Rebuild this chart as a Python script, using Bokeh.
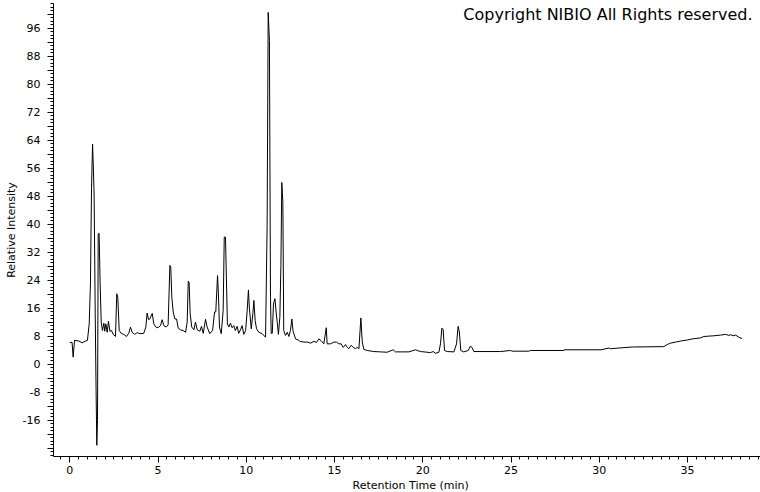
from bokeh.plotting import figure
from bokeh.models import SingleIntervalTicker, Label, Range1d, Title
from bokeh.embed import file_html
from bokeh.resources import INLINE

# Chromatogram trace (retention time in min, relative intensity)
time_min = [0.00, 0.13, 0.19, 0.27, 0.51, 0.70, 0.89, 1.00, 1.10, 1.17, 1.23, 1.29, 1.34, 1.38,
            1.44, 1.49, 1.53, 1.57, 1.61, 1.66, 1.72, 1.78, 1.85, 1.93, 1.98, 2.04, 2.12, 2.19,
            2.27, 2.36, 2.46, 2.59, 2.66, 2.72, 2.80, 2.91, 3.06, 3.21, 3.34, 3.44, 3.53, 3.67,
            3.82, 3.97, 4.19, 4.31, 4.38, 4.46, 4.53, 4.67, 4.76, 4.91, 5.04, 5.14, 5.23, 5.33,
            5.46, 5.57, 5.67, 5.72, 5.78, 5.86, 5.95, 6.05, 6.14, 6.27, 6.42, 6.56, 6.65, 6.71,
            6.76, 6.82, 6.91, 7.03, 7.12, 7.22, 7.37, 7.46, 7.56, 7.69, 7.78, 7.93, 8.09, 8.20,
            8.27, 8.37, 8.42, 8.48, 8.58, 8.69, 8.75, 8.82, 8.88, 8.93, 9.01, 9.10, 9.20, 9.29,
            9.38, 9.48, 9.57, 9.67, 9.76, 9.86, 9.96, 10.05, 10.12, 10.17, 10.28, 10.37, 10.43,
            10.50, 10.58, 10.71, 10.90, 11.09, 11.18, 11.24, 11.31, 11.37, 11.41, 11.47, 11.54,
            11.62, 11.69, 11.75, 11.82, 11.90, 11.96, 12.01, 12.07, 12.12, 12.22, 12.32, 12.41,
            12.50, 12.58, 12.65, 12.79, 12.98, 13.03, 13.26, 13.45, 13.64, 13.83, 13.98, 14.11,
            14.24, 14.39, 14.53, 14.58, 14.77, 14.96, 15.11, 15.24, 15.37, 15.49, 15.62, 15.72,
            15.81, 15.94, 16.06, 16.19, 16.28, 16.38, 16.49, 16.57, 16.66, 16.85, 17.22, 17.60,
            17.98, 18.32, 18.45, 18.74, 19.21, 19.59, 19.68, 19.87, 20.44, 20.59, 20.72, 20.91,
            21.00, 21.08, 21.15, 21.23, 21.38, 21.76, 21.91, 22.00, 22.07, 22.15, 22.32, 22.57,
            22.70, 22.80, 22.89, 24.40, 24.97, 25.06, 26.00, 26.10, 27.99, 28.00, 30.10, 30.54,
            30.63, 31.10, 31.86, 33.65, 33.85, 34.03, 34.32, 34.60, 34.98, 35.26, 35.73, 35.92,
            36.20, 36.49, 36.87, 37.15, 37.34, 37.43, 37.62, 37.72, 37.90, 38.09]

intensity = [6.3, 6.3, 2.1, 6.9, 6.7, 6.2, 6.7, 6.9, 11.6, 23.0, 50.2, 63.0, 55.6, 47.8,
             14.5, -7.4, -23.1, -16.0, 37.3, 37.5, 23.0, 12.1, 9.7, 11.8, 9.5, 11.6, 9.2, 12.4,
             9.5, 9.7, 8.6, 8.0, 20.2, 19.2, 9.7, 8.9, 8.6, 8.0, 8.9, 10.7, 9.2, 8.6,
             9.1, 8.8, 8.9, 10.7, 14.7, 12.8, 13.0, 14.6, 11.6, 10.5, 10.7, 11.1, 12.8, 11.1,
             10.7, 11.3, 28.3, 27.8, 19.2, 15.0, 13.0, 13.0, 10.4, 9.9, 9.7, 9.2, 12.1, 23.8,
             23.5, 14.5, 10.7, 9.9, 12.1, 9.9, 9.5, 10.9, 8.9, 12.9, 10.7, 8.8, 9.7, 15.0,
             15.0, 25.4, 20.2, 10.7, 8.8, 15.5, 36.4, 36.4, 23.0, 11.6, 10.7, 11.8, 10.5, 11.1,
             9.7, 10.9, 8.9, 9.9, 11.1, 8.6, 9.7, 15.4, 21.3, 16.4, 10.2, 14.5, 18.3,
             12.6, 10.2, 9.2, 8.8, 7.8, 40.0, 100.6, 92.6, 19.2, 8.9, 8.9, 17.3,
             18.8, 15.0, 12.1, 8.6, 13.5, 28.3, 52.0, 46.4, 9.7, 8.3, 9.2, 8.0,
             9.7, 13.0, 9.5, 7.3, 6.9, 6.6, 6.4, 6.4, 6.1, 6.6, 6.3, 7.3,
             6.8, 5.9, 10.5, 5.9, 5.9, 6.4, 6.4, 5.9, 5.9, 4.9, 5.7, 4.9,
             4.5, 5.5, 4.9, 4.5, 4.9, 4.5, 13.3, 6.4, 4.3, 4.0, 3.7, 3.6,
             3.5, 4.2, 3.6, 3.6, 3.6, 4.2, 4.0, 3.7, 3.4, 3.7, 3.2, 3.5,
             5.9, 10.4, 10.0, 4.0, 3.7, 3.6, 5.9, 10.9, 9.3, 4.0, 3.6, 4.0,
             5.3, 4.7, 3.7, 3.7, 4.0, 3.8, 3.8, 4.0, 4.0, 4.2, 4.2, 4.7,
             4.5, 4.7, 5.0, 5.1, 5.7, 6.1, 6.4, 6.7, 7.0, 7.3, 7.6, 8.0,
             8.1, 8.2, 8.4, 8.6, 8.3, 8.5, 8.2, 8.4, 7.8, 7.4]

# y tick labels: long ticks every 4 units, text every 8 (hyphen minus as in the original)
y_tick_values = [-24, -20, -16, -12, -8, -4, 0, 4, 8, 12, 16, 20, 24, 28, 32, 36, 40, 44,
                 48, 52, 56, 60, 64, 68, 72, 76, 80, 84, 88, 92, 96, 100]
y_tick_texts = ["", "", "-16", "", "-8", "", "0", "", "8", "", "16", "", "24", "", "32", "",
                "40", "", "48", "", "56", "", "64", "", "72", "", "80", "", "88", "", "96", ""]

x_label = "Retention Time (min)"
y_label = "Relative Intensity"
copyright_text = "Copyright NIBIO All Rights reserved."

FONT = "DejaVu Sans"

p = figure(width=760, height=492, output_backend="svg", toolbar_location=None,
           x_range=Range1d(-0.923, 39.13), y_range=Range1d(-26.29, 103.14),
           min_border_left=53, min_border_right=0, min_border_top=3, min_border_bottom=36)
p.outline_line_color = None
p.grid.visible = False
p.background_fill_color = "white"
p.border_fill_color = "white"

p.line(time_min, intensity, line_color="black", line_width=1)

for ax in (p.xaxis[0], p.yaxis[0]):
    ax.axis_line_color = "black"
    ax.major_tick_line_color = "black"
    ax.minor_tick_line_color = "black"
    ax.major_tick_in = 0
    ax.minor_tick_in = 0
    ax.major_tick_out = 6
    ax.minor_tick_out = 3
    ax.major_label_text_font = FONT
    ax.major_label_text_font_size = "11px"
    ax.major_label_text_color = "black"

p.xaxis[0].ticker = SingleIntervalTicker(interval=5, num_minor_ticks=10)
p.yaxis[0].ticker = SingleIntervalTicker(interval=4, num_minor_ticks=4)
p.yaxis[0].major_label_overrides = dict(zip(y_tick_values, y_tick_texts))
p.xaxis[0].major_label_standoff = 3
p.yaxis[0].major_label_standoff = 7

p.yaxis[0].axis_label = y_label
p.yaxis[0].axis_label_text_font = FONT
p.yaxis[0].axis_label_text_font_size = "11px"
p.yaxis[0].axis_label_text_font_style = "normal"
p.yaxis[0].axis_label_text_color = "black"
p.yaxis[0].axis_label_standoff = 2

p.add_layout(Title(text=x_label, align="left", offset=299, standoff=0,
                   text_font=FONT, text_font_size="11px", text_font_style="normal",
                   text_color="black"), "below")

p.add_layout(Label(x=38.68, y=99.9, text=copyright_text, text_align="right",
                   text_baseline="alphabetic", text_font=FONT, text_font_size="16px",
                   text_color="black"))

open("out.html", "w").write(file_html(p, INLINE))
